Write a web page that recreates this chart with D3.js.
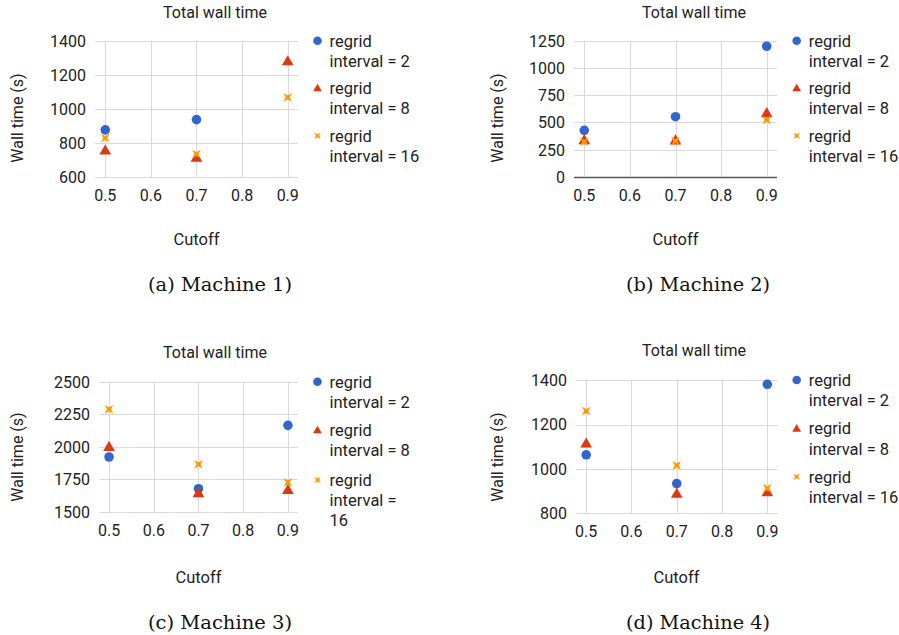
<!DOCTYPE html>
<html>
<head>
<meta charset="utf-8">
<script src="https://cdn.jsdelivr.net/npm/d3@7"></script>
<style>
  body { margin: 0; background: #fff; }
  text { font-family: Roboto, "Noto Sans", sans-serif; fill: #222; }
  .caption { font-family: "DejaVu Serif", "Liberation Serif", serif; fill: #111; }
</style>
</head>
<body>
<div id="chart"></div>
<script>
// cutoff values on the x axis
var cutoffs = [0.5, 0.7, 0.9];
var xTicks = [0.5, 0.6, 0.7, 0.8, 0.9];
var seriesLabels = ["regrid interval = 2", "regrid interval = 8", "regrid interval = 16"];

// wall time (s) per machine, one array per regrid interval
var m1Int2 = [878, 938, null];
var m1Int8 = [760, 717, 1282];
var m1Int16 = [830, 736, 1068];

var m2Int2 = [428, 553, 1199];
var m2Int8 = [342, 340, 590];
var m2Int16 = [324, 330, 523];

var m3Int2 = [1922, 1679, 2165];
var m3Int8 = [2003, 1648, 1673];
var m3Int16 = [2288, 1866, 1728];

var m4Int2 = [1064, 934, 1382];
var m4Int8 = [1117, 890, 897];
var m4Int16 = [1261, 1016, 913];

var m1YTicks = [600, 800, 1000, 1200, 1400];
var m2YTicks = [0, 250, 500, 750, 1000, 1250];
var m3YTicks = [1500, 1750, 2000, 2250, 2500];
var m4YTicks = [800, 1000, 1200, 1400];

var captions = ["(a) Machine 1)", "(b) Machine 2)", "(c) Machine 3)", "(d) Machine 4)"];

var colors = ["#3366cc", "#dc3912", "#ff9900"];

var width = 899, height = 635;
var svg = d3.select("#chart").append("svg").attr("width", width).attr("height", height);

// 4-point star, rotated like an x
function starPath(r, ri) {
  var pts = [];
  for (var i = 0; i < 8; i++) {
    var a = Math.PI / 4 + i * Math.PI / 4;
    var rr = i % 2 === 0 ? r : ri;
    pts.push([rr * Math.cos(a), rr * Math.sin(a)]);
  }
  return "M" + pts.map(function (p) { return p.join(","); }).join("L") + "Z";
}

function marker(g, kind, x, y, big) {
  if (kind === 0) {
    g.append("circle").attr("cx", x).attr("cy", y).attr("r", big ? 4.8 : 4.3).attr("fill", colors[0]);
  } else if (kind === 1) {
    var s = big ? 5.6 : 4.2;
    g.append("path")
      .attr("d", "M0," + (-s) + "L" + (s * 1.05) + "," + (s * 0.8) + "L" + (-s * 1.05) + "," + (s * 0.8) + "Z")
      .attr("transform", "translate(" + x + "," + y + ")")
      .attr("fill", colors[1]);
  } else {
    g.append("path")
      .attr("d", big ? starPath(6.2, 2.0) : starPath(4.6, 1.5))
      .attr("transform", "translate(" + x + "," + y + ")")
      .attr("fill", colors[2]);
  }
}

var panels = [
  { series: [m1Int2, m1Int8, m1Int16], ticks: m1YTicks, left: 95, right: 298, top: 40.7, bottom: 177.3,
    title: [215, 17.5], ylab: [17.5, 118], xlab: [196.5, 245], legX: 317.5, legY: [40.7, 88, 135.7], wrap16: false, cap: [220, 291] },
  { series: [m2Int2, m2Int8, m2Int16], ticks: m2YTicks, left: 574, right: 777, top: 40.7, bottom: 177,
    title: [694, 17.5], ylab: [497, 118], xlab: [675.5, 245], legX: 796.7, legY: [40.7, 88, 135.7], wrap16: false, cap: [698, 291], darkBase: true },
  { series: [m3Int2, m3Int8, m3Int16], ticks: m3YTicks, left: 99, right: 298, top: 381.7, bottom: 512,
    title: [215, 357.5], ylab: [17.5, 457], xlab: [198.5, 583], legX: 317.5, legY: [381.7, 430, 480], wrap16: true, cap: [220, 629] },
  { series: [m4Int2, m4Int8, m4Int16], ticks: m4YTicks, left: 576, right: 777.5, top: 380.3, bottom: 513.3,
    title: [694, 356], ylab: [497, 457], xlab: [676.5, 583], legX: 796.7, legY: [380, 428.3, 476.7], wrap16: false, cap: [698, 629] }
];

panels.forEach(function (p, pi) {
  var g = svg.append("g");
  var x = d3.scaleLinear().domain([0.4775, 0.9225]).range([p.left, p.right]);
  var y = d3.scaleLinear().domain(d3.extent(p.ticks)).range([p.bottom, p.top]);

  // title
  g.append("text").attr("x", p.title[0]).attr("y", p.title[1])
    .attr("text-anchor", "middle").style("font-size", "16px").text("Total wall time");

  // gridlines
  g.selectAll(".hg").data(p.ticks).enter().append("line")
    .attr("x1", p.left).attr("x2", p.right)
    .attr("y1", function (d) { return Math.round(y(d)) + 0.5; })
    .attr("y2", function (d) { return Math.round(y(d)) + 0.5; })
    .attr("stroke", function (d) { return p.darkBase && d === 0 ? "#555" : "#d9d9d9"; })
    .attr("stroke-width", function (d) { return p.darkBase && d === 0 ? 1.5 : 1; });
  g.selectAll(".vg").data(xTicks).enter().append("line")
    .attr("x1", function (d) { return Math.round(x(d)) + 0.5; })
    .attr("x2", function (d) { return Math.round(x(d)) + 0.5; })
    .attr("y1", p.top).attr("y2", p.bottom)
    .attr("stroke", "#d9d9d9");

  // y tick labels
  g.selectAll(".yt").data(p.ticks).enter().append("text")
    .attr("x", p.left - 9).attr("y", function (d) { return y(d) + 5.8; })
    .attr("text-anchor", "end").style("font-size", "16px")
    .text(function (d) { return d; });

  // x tick labels
  g.selectAll(".xt").data(xTicks).enter().append("text")
    .attr("x", function (d) { return x(d); }).attr("y", p.bottom + 24)
    .attr("text-anchor", "middle").style("font-size", "16px")
    .text(function (d) { return d3.format(".1f")(d); });

  // axis titles
  g.append("text").attr("transform", "translate(" + p.ylab[0] + "," + p.ylab[1] + ") rotate(-90)")
    .attr("dy", "0.35em").attr("text-anchor", "middle").style("font-size", "16px").text("Wall time (s)");
  g.append("text").attr("x", p.xlab[0]).attr("y", p.xlab[1])
    .attr("text-anchor", "middle").style("font-size", "16.5px").text("Cutoff");

  // points, drawn in series order
  p.series.forEach(function (vals, si) {
    vals.forEach(function (v, i) {
      if (v == null) return;
      marker(g, si, x(cutoffs[i]), y(v), true);
    });
  });

  // legend
  seriesLabels.forEach(function (lab, si) {
    var ly = p.legY[si];
    marker(g, si, p.legX, ly, false);
    var lines = ["regrid", lab.replace("regrid ", "")];
    if (si === 2 && p.wrap16) lines = ["regrid", "interval =", "16"];
    lines.forEach(function (t, li) {
      g.append("text").attr("x", p.legX + 12).attr("y", ly + 6 + li * 20.2)
        .style("font-size", "16.5px").text(t);
    });
  });

  // caption
  g.append("text").attr("class", "caption").attr("x", p.cap[0]).attr("y", p.cap[1])
    .attr("text-anchor", "middle").attr("textLength", 144).attr("lengthAdjust", "spacingAndGlyphs")
    .style("font-size", "18px").text(captions[pi]);
});
</script>
</body>
</html>
